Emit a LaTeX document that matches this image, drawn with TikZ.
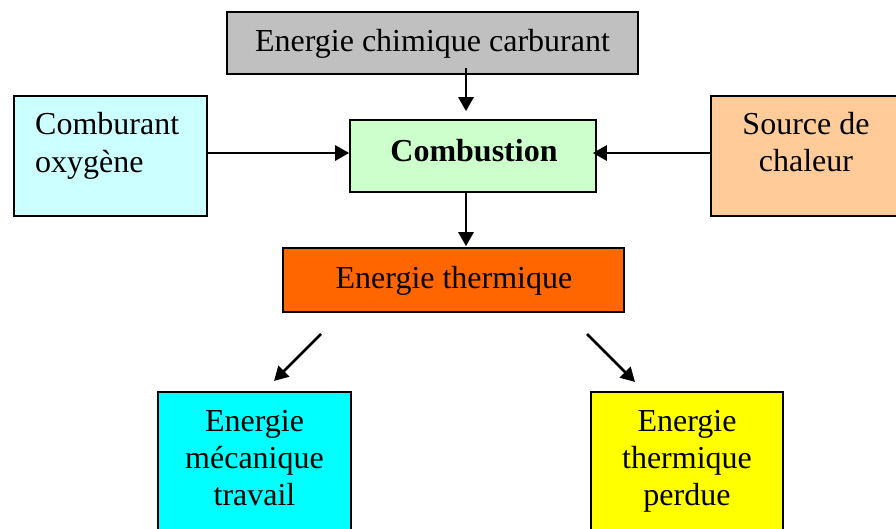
\documentclass[tikz,border=0pt]{standalone}
\usepackage{fontspec}
\setmainfont{Liberation Serif}
\usetikzlibrary{arrows.meta,calc}
\definecolor{cgray}{HTML}{C0C0C0}
\definecolor{cgreen}{HTML}{CCFFCC}
\definecolor{clcyan}{HTML}{CCFFFF}
\definecolor{cpeach}{HTML}{FFCC99}
\definecolor{corange}{HTML}{FF6600}
\definecolor{ccyan}{HTML}{00FFFF}
\definecolor{cyellow}{HTML}{FFFF00}
\begin{document}
\begin{tikzpicture}[x=1pt,y=-1pt,
  box/.style={draw=black,line width=1.6pt,rectangle,inner sep=0pt,minimum width=#1},
  lbl/.style={inner sep=0pt,anchor=base,font=\fontsize{32}{37}\selectfont},
  lblw/.style={inner sep=0pt,anchor=base west,font=\fontsize{32}{37}\selectfont},
  arr/.style={line width=2.8pt,-{Triangle[length=14pt,width=15pt]}}]
\useasboundingbox (0,0) rectangle (896,529);
% boxes
\node[box=411pt,minimum height=62pt,fill=cgray] (chim) at (432.5,43) {};
\node[box=246pt,minimum height=72pt,fill=cgreen] (comb) at (473,156) {};
\node[box=193pt,minimum height=120pt,fill=clcyan] (oxy) at (110.5,156) {};
\node[box=190pt,minimum height=120pt,fill=cpeach] (src) at (806,156) {};
\node[box=341pt,minimum height=64pt,fill=corange] (therm) at (453.5,280) {};
\node[box=193pt,minimum height=138pt,fill=ccyan] (meca) at (254.5,461) {};
\node[box=192pt,minimum height=138pt,fill=cyellow] (perd) at (687,461) {};
% texts
\node[lbl] (tchim) at (432.5,52) {Energie chimique carburant};
\node[lbl] (tcomb) at (474,162) {\bfseries Combustion};
\node[lblw] (toxy1) at (35,135) {Comburant};
\node[lblw] (toxy2) at (35,173) {oxygène};
\node[lbl] (tsrc1) at (806,135) {Source de};
\node[lbl] (tsrc2) at (806,172) {chaleur};
\node[lbl] (ttherm) at (454,288) {Energie thermique};
\node[lbl] (tmeca1) at (254.5,431) {Energie};
\node[lbl] (tmeca2) at (254.5,468) {mécanique};
\node[lbl] (tmeca3) at (254.5,505) {travail};
\node[lbl] (tperd1) at (687,431) {Energie};
\node[lbl] (tperd2) at (687,468) {thermique};
\node[lbl] (tperd3) at (687,505) {perdue};
% connectors
\draw[arr] ($(chim.south)+(33.5,-7)$) -- ($(comb.north)+(-7,-8)$);
\draw[arr] ([yshift=3pt]oxy.east) -- ([yshift=3pt]comb.west);
\draw[arr] ([yshift=3pt]src.west) -- ([xshift=-4pt,yshift=3pt]comb.east);
\draw[arr] ([xshift=-7pt]comb.south) -- ([xshift=12.5pt,yshift=1pt]therm.north);
\coordinate (d1s) at (321,334);
\coordinate (d1e) at (274,381);
\coordinate (d2s) at (587,334);
\coordinate (d2e) at (635,382);
\draw[arr] (d1s) -- (d1e);
\draw[arr] (d2s) -- (d2e);
\end{tikzpicture}
\end{document}
